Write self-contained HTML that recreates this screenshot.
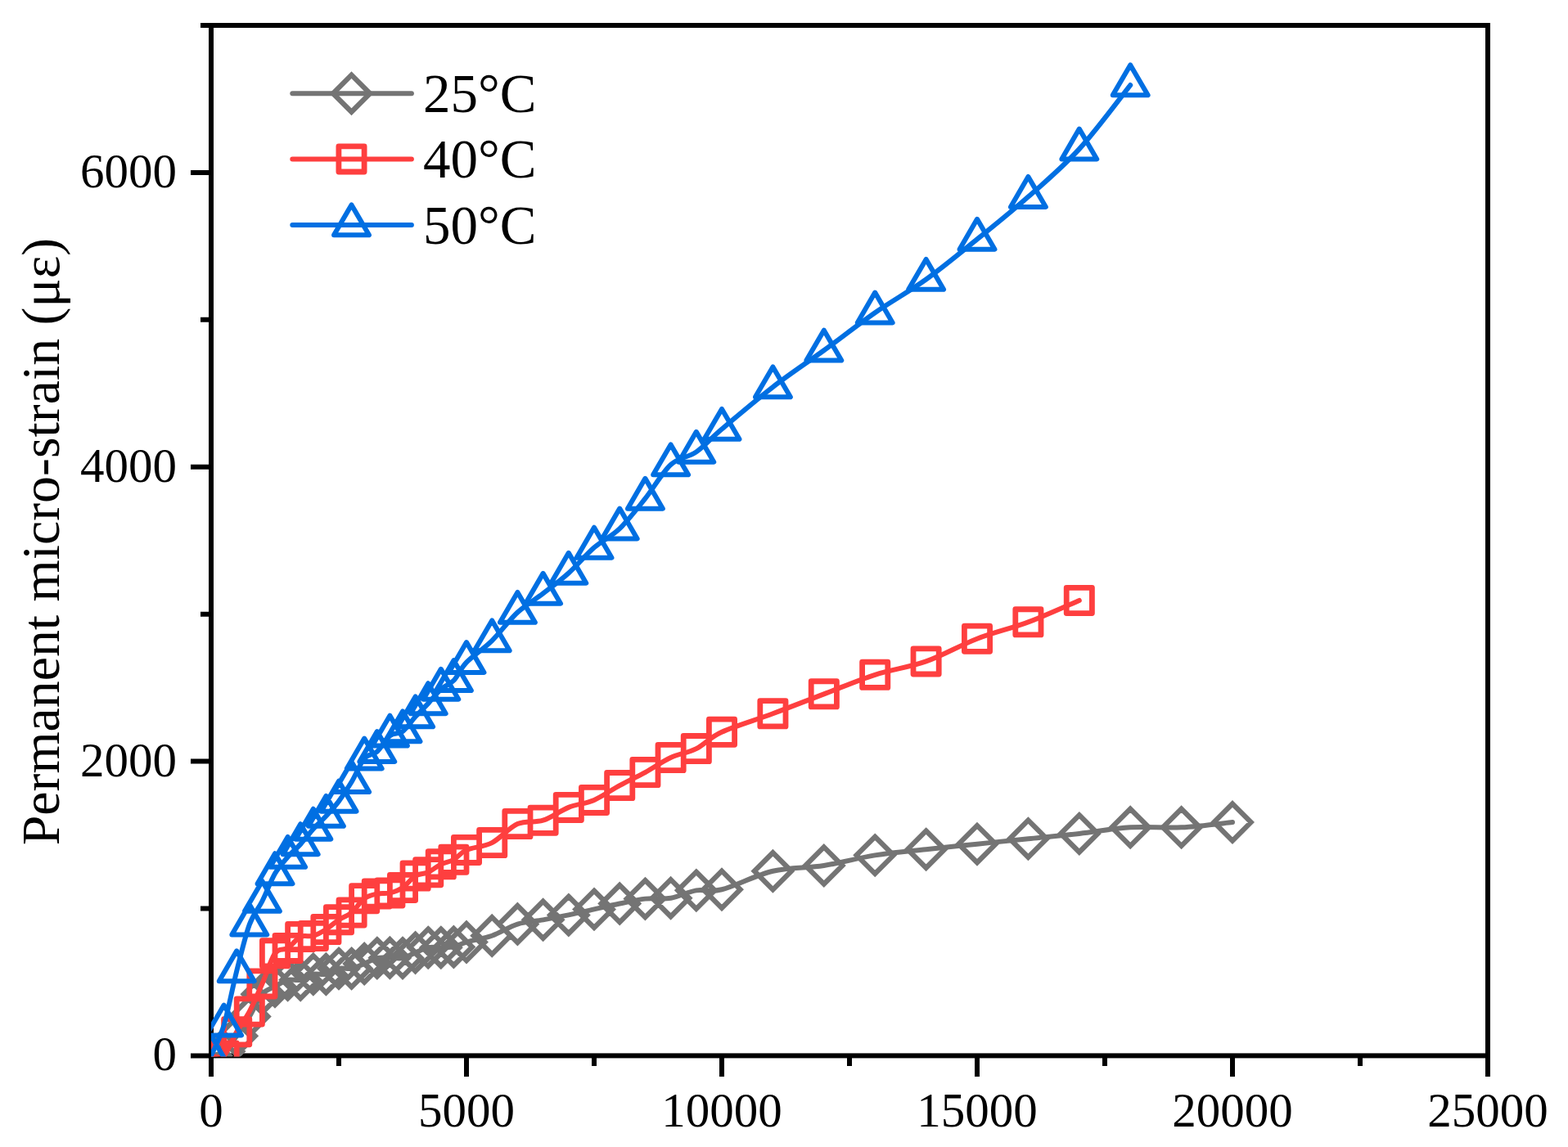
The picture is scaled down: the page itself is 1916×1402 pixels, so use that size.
<!DOCTYPE html>
<html><head><meta charset="utf-8"><title>Permanent micro-strain</title>
<style>
html,body{margin:0;padding:0;background:#fff;}
body{width:1916px;height:1402px;overflow:hidden;}
svg{display:block;}
text{font-family:"Liberation Serif","Times New Roman",serif;fill:#000;}
</style></head><body>
<svg width="1916" height="1402" viewBox="0 0 1916 1402">
<rect x="0" y="0" width="1916" height="1402" fill="#fff"/>

<path d="M233,1290.4H258M245,1110.49H258M233,930.57H258M245,750.66H258M233,570.74H258M245,390.83H258M233,210.91H258M245,31H258M258,1290.4V1316M414,1290.4V1303M570,1290.4V1316M726,1290.4V1303M882,1290.4V1316M1038,1290.4V1303M1194,1290.4V1316M1350,1290.4V1303M1506,1290.4V1316M1662,1290.4V1303M1818,1290.4V1316" stroke="#000" stroke-width="6" fill="none" stroke-linecap="butt"/>
<rect x="258" y="31" width="1560" height="1259.4" fill="none" stroke="#000" stroke-width="6"/>
<text x="216" y="1308.4" font-size="59" text-anchor="end">0</text>
<text x="216" y="948.57" font-size="59" text-anchor="end">2000</text>
<text x="216" y="588.74" font-size="59" text-anchor="end">4000</text>
<text x="216" y="228.91" font-size="59" text-anchor="end">6000</text>
<text x="258" y="1377" font-size="59" text-anchor="middle">0</text>
<text x="570" y="1377" font-size="59" text-anchor="middle">5000</text>
<text x="882" y="1377" font-size="59" text-anchor="middle">10000</text>
<text x="1194" y="1377" font-size="59" text-anchor="middle">15000</text>
<text x="1506" y="1377" font-size="59" text-anchor="middle">20000</text>
<text x="1818" y="1377" font-size="59" text-anchor="middle">25000</text>
<text transform="translate(71.5,662) rotate(-90)" font-size="65.8" text-anchor="middle">Permanent micro-strain (&#956;&#949;)</text>
<defs><clipPath id="pc"><rect x="258" y="31" width="1560" height="1260.4"/></clipPath></defs>
<g clip-path="url(#pc)" fill="none" stroke-width="6" stroke-linejoin="round" stroke-linecap="round">
<path d="M258,1290.4C260.6,1289.5 268.4,1289.02 273.6,1285C278.8,1280.98 284,1273.37 289.2,1266.29C294.4,1259.21 299.6,1251.06 304.8,1242.54C310,1234.03 315.2,1221.31 320.4,1215.2C325.6,1209.08 330.8,1208.75 336,1205.84C341.2,1202.93 346.4,1199.09 351.6,1197.74C356.8,1196.39 362,1198.91 367.2,1197.74C372.4,1196.57 377.6,1191.9 382.8,1190.73C388,1189.56 393.2,1191.87 398.4,1190.73C403.6,1189.59 408.8,1185.03 414,1183.89C419.2,1182.75 424.4,1184.88 429.6,1183.89C434.8,1182.9 440,1180.08 445.2,1177.95C450.4,1175.82 455.6,1172.32 460.8,1171.12C466,1169.92 471.2,1170.76 476.4,1170.76C481.6,1170.76 486.8,1172.17 492,1171.12C497.2,1170.07 502.4,1166.62 507.6,1164.46C512.8,1162.3 518,1159.21 523.2,1158.16C528.4,1157.11 533.6,1158.28 538.8,1158.16C544,1158.04 549.2,1158.55 554.4,1157.44C559.6,1156.33 562.2,1153.79 570,1151.51C577.8,1149.23 590.8,1147.43 601.2,1143.77C611.6,1140.11 622,1132.8 632.4,1129.56C642.8,1126.32 653.2,1126.2 663.6,1124.34C674,1122.48 684.4,1120.56 694.8,1118.4C705.2,1116.24 715.6,1113.69 726,1111.39C736.4,1109.08 746.8,1106.68 757.2,1104.55C767.6,1102.42 778,1099.75 788.4,1098.61C798.8,1097.47 809.2,1099.42 819.6,1097.71C830,1096 840.4,1090.1 850.8,1088.36C861.2,1086.62 866.4,1091.2 882,1087.28C897.6,1083.35 923.6,1069.68 944.4,1064.79C965.2,1059.9 986,1061.19 1006.8,1057.95C1027.6,1054.71 1048.4,1048.66 1069.2,1045.36C1090,1042.06 1110.8,1040.44 1131.6,1038.16C1152.4,1035.88 1173.2,1033.84 1194,1031.68C1214.8,1029.52 1235.6,1027.34 1256.4,1025.21C1277.2,1023.08 1298,1021.22 1318.8,1018.91C1339.6,1016.6 1360.4,1012.61 1381.2,1011.35C1402,1010.09 1422.8,1012.4 1443.6,1011.35C1464.4,1010.3 1495.6,1006.11 1506,1005.06" stroke="#747474" />
<path d="M258,1267.8L280.6,1290.4L258,1313L235.4,1290.4ZM273.6,1262.4L296.2,1285L273.6,1307.6L251,1285ZM289.2,1243.69L311.8,1266.29L289.2,1288.89L266.6,1266.29ZM304.8,1219.94L327.4,1242.54L304.8,1265.14L282.2,1242.54ZM320.4,1192.6L343,1215.2L320.4,1237.8L297.8,1215.2ZM336,1183.24L358.6,1205.84L336,1228.44L313.4,1205.84ZM351.6,1175.14L374.2,1197.74L351.6,1220.34L329,1197.74ZM367.2,1175.14L389.8,1197.74L367.2,1220.34L344.6,1197.74ZM382.8,1168.13L405.4,1190.73L382.8,1213.33L360.2,1190.73ZM398.4,1168.13L421,1190.73L398.4,1213.33L375.8,1190.73ZM414,1161.29L436.6,1183.89L414,1206.49L391.4,1183.89ZM429.6,1161.29L452.2,1183.89L429.6,1206.49L407,1183.89ZM445.2,1155.35L467.8,1177.95L445.2,1200.55L422.6,1177.95ZM460.8,1148.52L483.4,1171.12L460.8,1193.72L438.2,1171.12ZM476.4,1148.16L499,1170.76L476.4,1193.36L453.8,1170.76ZM492,1148.52L514.6,1171.12L492,1193.72L469.4,1171.12ZM507.6,1141.86L530.2,1164.46L507.6,1187.06L485,1164.46ZM523.2,1135.56L545.8,1158.16L523.2,1180.76L500.6,1158.16ZM538.8,1135.56L561.4,1158.16L538.8,1180.76L516.2,1158.16ZM554.4,1134.84L577,1157.44L554.4,1180.04L531.8,1157.44ZM570,1128.91L592.6,1151.51L570,1174.11L547.4,1151.51ZM601.2,1121.17L623.8,1143.77L601.2,1166.37L578.6,1143.77ZM632.4,1106.96L655,1129.56L632.4,1152.16L609.8,1129.56ZM663.6,1101.74L686.2,1124.34L663.6,1146.94L641,1124.34ZM694.8,1095.8L717.4,1118.4L694.8,1141L672.2,1118.4ZM726,1088.79L748.6,1111.39L726,1133.99L703.4,1111.39ZM757.2,1081.95L779.8,1104.55L757.2,1127.15L734.6,1104.55ZM788.4,1076.01L811,1098.61L788.4,1121.21L765.8,1098.61ZM819.6,1075.11L842.2,1097.71L819.6,1120.31L797,1097.71ZM850.8,1065.76L873.4,1088.36L850.8,1110.96L828.2,1088.36ZM882,1064.68L904.6,1087.28L882,1109.88L859.4,1087.28ZM944.4,1042.19L967,1064.79L944.4,1087.39L921.8,1064.79ZM1006.8,1035.35L1029.4,1057.95L1006.8,1080.55L984.2,1057.95ZM1069.2,1022.76L1091.8,1045.36L1069.2,1067.96L1046.6,1045.36ZM1131.6,1015.56L1154.2,1038.16L1131.6,1060.76L1109,1038.16ZM1194,1009.08L1216.6,1031.68L1194,1054.28L1171.4,1031.68ZM1256.4,1002.61L1279,1025.21L1256.4,1047.81L1233.8,1025.21ZM1318.8,996.31L1341.4,1018.91L1318.8,1041.51L1296.2,1018.91ZM1381.2,988.75L1403.8,1011.35L1381.2,1033.95L1358.6,1011.35ZM1443.6,988.75L1466.2,1011.35L1443.6,1033.95L1421,1011.35ZM1506,982.46L1528.6,1005.06L1506,1027.66L1483.4,1005.06Z" stroke="#747474" stroke-width="6.2" stroke-linejoin="miter" stroke-miterlimit="4"/>
<path d="M258,1290.4C260.6,1290.4 268.4,1295.26 273.6,1290.4C278.8,1285.54 284,1270.25 289.2,1261.25C294.4,1252.26 299.6,1246.23 304.8,1236.43C310,1226.62 315.2,1214.27 320.4,1202.42C325.6,1190.58 330.8,1172.62 336,1165.36C341.2,1158.1 346.4,1162.27 351.6,1158.88C356.8,1155.49 362,1147.52 367.2,1145.03C372.4,1142.54 377.6,1145.45 382.8,1143.95C388,1142.45 393.2,1139.33 398.4,1136.03C403.6,1132.74 408.8,1127.58 414,1124.16C419.2,1120.74 424.4,1119.84 429.6,1115.52C434.8,1111.21 440,1102.09 445.2,1098.25C450.4,1094.41 455.6,1093.63 460.8,1092.49C466,1091.35 471.2,1092.67 476.4,1091.41C481.6,1090.16 486.8,1088.42 492,1084.94C497.2,1081.46 502.4,1073.66 507.6,1070.54C512.8,1067.43 518,1068.6 523.2,1066.23C528.4,1063.86 533.6,1058.91 538.8,1056.33C544,1053.75 549.2,1053.66 554.4,1050.75C559.6,1047.85 562.2,1042.33 570,1038.88C577.8,1035.43 590.8,1035.37 601.2,1030.06C611.6,1024.76 622,1011.59 632.4,1007.04C642.8,1002.48 653.2,1006.08 663.6,1002.72C674,999.36 684.4,991.02 694.8,986.88C705.2,982.75 715.6,982.36 726,977.89C736.4,973.42 746.8,965.71 757.2,960.08C767.6,954.44 778,949.73 788.4,944.07C798.8,938.4 809.2,930.9 819.6,926.07C830,921.25 840.4,920.32 850.8,915.1C861.2,909.88 866.4,901.91 882,894.77C897.6,887.63 923.6,880.02 944.4,872.28C965.2,864.54 986,856.27 1006.8,848.35C1027.6,840.43 1048.4,831.44 1069.2,824.78C1090,818.12 1110.8,815.76 1131.6,808.41C1152.4,801.06 1173.2,788.71 1194,780.7C1214.8,772.7 1235.6,768.17 1256.4,760.37C1277.2,752.58 1308.4,738.33 1318.8,733.93" stroke="#FE3F3F" />
<path d="M242.4,1274.8H273.6V1306H242.4ZM258,1274.8H289.2V1306H258ZM273.6,1245.65H304.8V1276.85H273.6ZM289.2,1220.83H320.4V1252.03H289.2ZM304.8,1186.82H336V1218.02H304.8ZM320.4,1149.76H351.6V1180.96H320.4ZM336,1143.28H367.2V1174.48H336ZM351.6,1129.43H382.8V1160.63H351.6ZM367.2,1128.35H398.4V1159.55H367.2ZM382.8,1120.43H414V1151.63H382.8ZM398.4,1108.56H429.6V1139.76H398.4ZM414,1099.92H445.2V1131.12H414ZM429.6,1082.65H460.8V1113.85H429.6ZM445.2,1076.89H476.4V1108.09H445.2ZM460.8,1075.81H492V1107.01H460.8ZM476.4,1069.34H507.6V1100.54H476.4ZM492,1054.94H523.2V1086.14H492ZM507.6,1050.63H538.8V1081.83H507.6ZM523.2,1040.73H554.4V1071.93H523.2ZM538.8,1035.15H570V1066.35H538.8ZM554.4,1023.28H585.6V1054.48H554.4ZM585.6,1014.46H616.8V1045.66H585.6ZM616.8,991.44H648V1022.64H616.8ZM648,987.12H679.2V1018.32H648ZM679.2,971.28H710.4V1002.48H679.2ZM710.4,962.29H741.6V993.49H710.4ZM741.6,944.48H772.8V975.68H741.6ZM772.8,928.47H804V959.67H772.8ZM804,910.47H835.2V941.67H804ZM835.2,899.5H866.4V930.7H835.2ZM866.4,879.17H897.6V910.37H866.4ZM928.8,856.68H960V887.88H928.8ZM991.2,832.75H1022.4V863.95H991.2ZM1053.6,809.18H1084.8V840.38H1053.6ZM1116,792.81H1147.2V824.01H1116ZM1178.4,765.1H1209.6V796.3H1178.4ZM1240.8,744.77H1272V775.97H1240.8ZM1303.2,718.33H1334.4V749.53H1303.2Z" stroke="#FE3F3F" stroke-width="6.8" stroke-linejoin="round"/>
<path d="M258,1290.4C260.6,1284.19 268.4,1270.4 273.6,1253.16C278.8,1235.92 284,1207.46 289.2,1186.95C294.4,1166.44 299.6,1144.34 304.8,1130.1C310,1115.85 315.2,1111.87 320.4,1101.49C325.6,1091.11 330.8,1076.84 336,1067.85C341.2,1058.85 346.4,1053.51 351.6,1047.52C356.8,1041.52 362,1037.56 367.2,1031.86C372.4,1026.17 377.6,1019.06 382.8,1013.33C388,1007.6 393.2,1003.17 398.4,997.5C403.6,991.83 408.8,986.28 414,979.33C419.2,972.37 424.4,964.46 429.6,955.76C434.8,947.06 440,933.33 445.2,927.15C450.4,920.98 455.6,923.34 460.8,918.7C466,914.05 471.2,903.37 476.4,899.27C481.6,895.16 486.8,897.92 492,894.05C497.2,890.18 502.4,881.75 507.6,876.06C512.8,870.36 518,865.47 523.2,859.87C528.4,854.26 533.6,847.09 538.8,842.41C544,837.74 549.2,837.26 554.4,831.8C559.6,826.34 562.2,817.8 570,809.67C577.8,801.54 590.8,793.24 601.2,783.04C611.6,772.85 622,758.09 632.4,748.5C642.8,738.9 653.2,733.48 663.6,725.47C674,717.46 684.4,709.82 694.8,700.46C705.2,691.11 715.6,678.39 726,669.34C736.4,660.28 746.8,656.11 757.2,646.13C767.6,636.14 778,622.44 788.4,609.42C798.8,596.41 809.2,577.55 819.6,568.04C830,558.54 840.4,559.65 850.8,552.39C861.2,545.14 866.4,537.73 882,524.5C897.6,511.28 923.6,489.09 944.4,473.05C965.2,457.01 986,443.39 1006.8,428.25C1027.6,413.11 1048.4,396.65 1069.2,382.19C1090,367.74 1110.8,356.49 1131.6,341.53C1152.4,326.57 1173.2,309.24 1194,292.42C1214.8,275.59 1235.6,258.98 1256.4,240.6C1277.2,222.22 1298,204.89 1318.8,182.13C1339.6,159.37 1370.8,117.06 1381.2,104.05" stroke="#006FE2" />
<path d="M258,1265.8L279.45,1302.7L236.55,1302.7ZM273.6,1228.56L295.05,1265.46L252.15,1265.46ZM289.2,1162.35L310.65,1199.25L267.75,1199.25ZM304.8,1105.5L326.25,1142.4L283.35,1142.4ZM320.4,1076.89L341.85,1113.79L298.95,1113.79ZM336,1043.25L357.45,1080.15L314.55,1080.15ZM351.6,1022.92L373.05,1059.82L330.15,1059.82ZM367.2,1007.26L388.65,1044.16L345.75,1044.16ZM382.8,988.73L404.25,1025.63L361.35,1025.63ZM398.4,972.9L419.85,1009.8L376.95,1009.8ZM414,954.73L435.45,991.63L392.55,991.63ZM429.6,931.16L451.05,968.06L408.15,968.06ZM445.2,902.55L466.65,939.45L423.75,939.45ZM460.8,894.1L482.25,931L439.35,931ZM476.4,874.67L497.85,911.57L454.95,911.57ZM492,869.45L513.45,906.35L470.55,906.35ZM507.6,851.46L529.05,888.36L486.15,888.36ZM523.2,835.27L544.65,872.17L501.75,872.17ZM538.8,817.81L560.25,854.71L517.35,854.71ZM554.4,807.2L575.85,844.1L532.95,844.1ZM570,785.07L591.45,821.97L548.55,821.97ZM601.2,758.44L622.65,795.34L579.75,795.34ZM632.4,723.9L653.85,760.8L610.95,760.8ZM663.6,700.87L685.05,737.77L642.15,737.77ZM694.8,675.86L716.25,712.76L673.35,712.76ZM726,644.74L747.45,681.64L704.55,681.64ZM757.2,621.53L778.65,658.43L735.75,658.43ZM788.4,584.82L809.85,621.72L766.95,621.72ZM819.6,543.44L841.05,580.34L798.15,580.34ZM850.8,527.79L872.25,564.69L829.35,564.69ZM882,499.9L903.45,536.8L860.55,536.8ZM944.4,448.45L965.85,485.35L922.95,485.35ZM1006.8,403.65L1028.25,440.55L985.35,440.55ZM1069.2,357.59L1090.65,394.49L1047.75,394.49ZM1131.6,316.93L1153.05,353.83L1110.15,353.83ZM1194,267.82L1215.45,304.72L1172.55,304.72ZM1256.4,216L1277.85,252.9L1234.95,252.9ZM1318.8,157.53L1340.25,194.43L1297.35,194.43ZM1381.2,79.45L1402.65,116.35L1359.75,116.35Z" stroke="#006FE2" stroke-width="6" stroke-linejoin="round"/>
</g>
<g fill="none" stroke-width="6" stroke-linejoin="round" stroke-linecap="round">
<path d="M357.3,114.2H502.9" stroke="#747474"/>
<path d="M429.5,91.6L452.1,114.2L429.5,136.8L406.9,114.2Z" stroke="#747474" stroke-width="6.2" stroke-linejoin="miter" stroke-miterlimit="4"/>
<path d="M357.3,194.4H502.9" stroke="#FE3F3F"/>
<path d="M413.9,178.8H445.1V210H413.9Z" stroke="#FE3F3F" stroke-width="6.8" stroke-linejoin="round"/>
<path d="M357.3,275H502.9" stroke="#006FE2"/>
<path d="M429.5,250.4L450.95,287.3L408.05,287.3Z" stroke="#006FE2" stroke-width="6" stroke-linejoin="round"/>
</g>
<text x="517" y="136.7" font-size="67">25&#176;C</text>
<text x="517" y="216.9" font-size="67">40&#176;C</text>
<text x="517" y="297.5" font-size="67">50&#176;C</text>
</svg>
</body></html>
